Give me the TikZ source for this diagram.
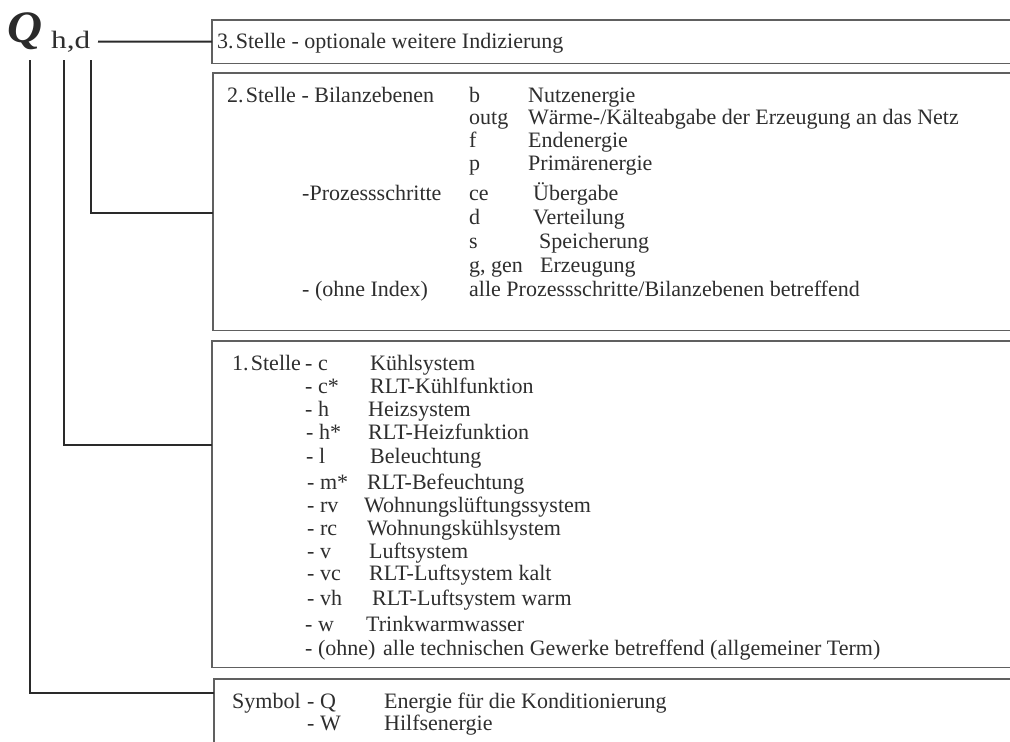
\documentclass[tikz,border=0pt]{standalone}
\usepackage{fontspec}
\setmainfont{Liberation Serif}
\newfontfamily\idxfont[FakeStretch=1.25]{Liberation Serif}
\newfontfamily\symfont[FakeStretch=1.08]{Liberation Serif}
\usetikzlibrary{calc}
\definecolor{boxgray}{HTML}{606060}
\definecolor{linegray}{HTML}{2A2A2A}
\definecolor{textgray}{HTML}{2E2E2E}
\newcommand{\nsp}{\hspace{0.1em}}
\begin{document}
\begin{tikzpicture}[x=1pt,y=-1pt,
  box/.style={draw=none,anchor=north west,inner sep=0pt,minimum width=830pt},
  boxline/.style={draw=boxgray,line width=1.5pt,line join=miter},
  conn/.style={draw=linegray,line width=2pt},
  txt/.style={anchor=base west,inner sep=0pt,text=textgray,font=\fontsize{22}{25}\selectfont}]
\useasboundingbox (0,0) rectangle (1010,742);
\clip (0,0) rectangle (1010,742);
\fill[white] (0,0) rectangle (1010,742);

% boxes (their right sides lie beyond the picture)
\node[box,minimum height=43pt]  (b3) at (212,20)  {};
\node[box,minimum height=257pt] (b2) at (213,73)  {};
\node[box,minimum height=326pt] (b1) at (212,341) {};
\node[box,minimum height=120pt] (b0) at (214,679) {};
\foreach \b in {b3,b2,b1,b0}
  \draw[boxline] (\b.north east) -- (\b.north west) -- (\b.south west) -- (\b.south east);

% symbol
\node[anchor=base west,inner sep=0pt,text=linegray,font=\fontsize{45}{45}\symfont\bfseries\itshape] (sym) at (7,42.5) {Q};
\node[anchor=base west,inner sep=0pt,text=textgray,font=\fontsize{25}{28}\idxfont] (idx) at (51,48.5) {h,d};

% connectors
\coordinate (hdend) at (98,41.5);
\coordinate (dtop) at (91,60);
\coordinate (htop) at (64,60);
\coordinate (qtop) at (30,60);
\draw[conn] (hdend) -- (b3.west);
\draw[conn] (dtop) |- ($(b2.north west)!0.545!(b2.south west)$);
\draw[conn] (htop) |- ($(b1.north west)!0.319!(b1.south west)$);
\draw[conn] (qtop) |- ($(b0.north west)+(0,14)$);

% box 3. Stelle
\node[txt] (t3) at (217,48.5) {3.\nsp Stelle - optionale weitere Indizierung};

% box 2. Stelle
\node[txt] (t2a) at (227,102.7) {2.\nsp Stelle - Bilanzebenen};
\node[txt] (t2b1) at (469,102.7) {b};
\node[txt] (t2b2) at (528,102.7) {Nutzenergie};
\node[txt] (t2c1) at (469,124.5) {outg};
\node[txt] (t2c2) at (528,124.5) {Wärme-/Kälteabgabe der Erzeugung an das Netz};
\node[txt] (t2d1) at (469,147) {f};
\node[txt] (t2d2) at (528,147) {Endenergie};
\node[txt] (t2e1) at (469,170.5) {p};
\node[txt] (t2e2) at (528,170.5) {Primärenergie};
\node[txt] (t2f0) at (302,200) {-Prozessschritte};
\node[txt] (t2f1) at (469,200) {ce};
\node[txt] (t2f2) at (533,200) {Übergabe};
\node[txt] (t2g1) at (469,224) {d};
\node[txt] (t2g2) at (533,224) {Verteilung};
\node[txt] (t2h1) at (469,248) {s};
\node[txt] (t2h2) at (539,248) {Speicherung};
\node[txt] (t2i1) at (469,272.5) {g, gen};
\node[txt] (t2i2) at (540,272.5) {Erzeugung};
\node[txt] (t2j0) at (302,296.5) {- (ohne Index)};
\node[txt] (t2j1) at (469,296.5) {alle Prozessschritte/Bilanzebenen betreffend};

% box 1. Stelle
\node[txt] (t1a) at (232,370.7) {1.\nsp Stelle};
\node[txt] (t1a1) at (305,370.7) {- c};
\node[txt] (t1a2) at (370,370.7) {Kühlsystem};
\node[txt] (t1b1) at (305,393.3) {- c*};
\node[txt] (t1b2) at (370,393.3) {RLT-Kühlfunktion};
\node[txt] (t1c1) at (305,416) {- h};
\node[txt] (t1c2) at (368,416) {Heizsystem};
\node[txt] (t1d1) at (306,439.3) {- h*};
\node[txt] (t1d2) at (368,439.3) {RLT-Heizfunktion};
\node[txt] (t1e1) at (306,463.3) {- l};
\node[txt] (t1e2) at (370,463.3) {Beleuchtung};
\node[txt] (t1f1) at (307,489) {- m*};
\node[txt] (t1f2) at (367,489) {RLT-Befeuchtung};
\node[txt] (t1g1) at (307,512.3) {- rv};
\node[txt] (t1g2) at (364,512.3) {Wohnungslüftungssystem};
\node[txt] (t1h1) at (307,535) {- rc};
\node[txt] (t1h2) at (367,535) {Wohnungskühlsystem};
\node[txt] (t1i1) at (307,558.3) {- v};
\node[txt] (t1i2) at (369,558.3) {Luftsystem};
\node[txt] (t1j1) at (307,580.7) {- vc};
\node[txt] (t1j2) at (369,580.7) {RLT-Luftsystem kalt};
\node[txt] (t1k1) at (307,605) {- vh};
\node[txt] (t1k2) at (372,605) {RLT-Luftsystem warm};
\node[txt] (t1l1) at (305,631) {- w};
\node[txt] (t1l2) at (366,631) {Trinkwarmwasser};
\node[txt] (t1m1) at (305,655) {- (ohne)};
\node[txt] (t1m2) at (383,655) {alle technischen Gewerke betreffend (allgemeiner Term)};

% box Symbol
\node[txt] (t0a) at (232,708) {Symbol};
\node[txt] (t0a1) at (307,708) {- Q};
\node[txt] (t0a2) at (384,708) {Energie für die Konditionierung};
\node[txt] (t0b1) at (307,730) {- W};
\node[txt] (t0b2) at (384,730) {Hilfsenergie};
\end{tikzpicture}
\end{document}
